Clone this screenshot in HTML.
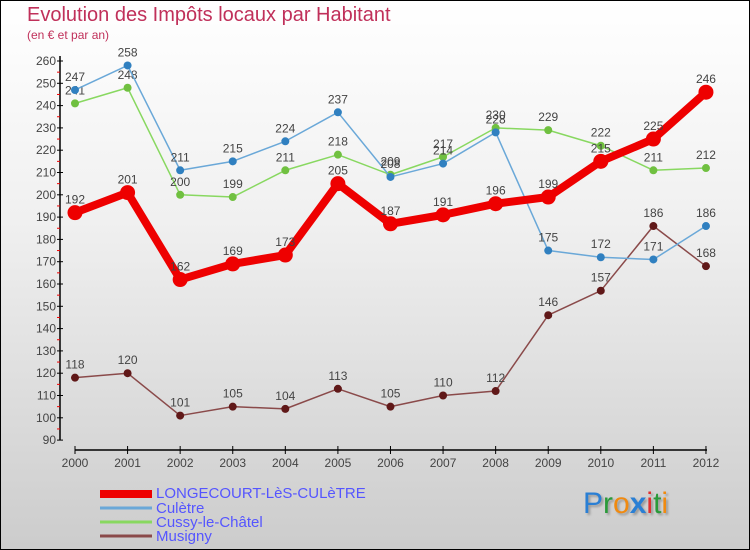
<!DOCTYPE html>
<html><head><meta charset="utf-8"><style>
body{margin:0;}
#wrap{position:relative;width:748px;height:548px;border:1px solid #000;background:linear-gradient(#ffffff,#f0f0f0 40%,#cccccc);overflow:hidden;font-family:"Liberation Sans",sans-serif;}
.t{position:absolute;white-space:nowrap;}
</style></head><body>
<div id="wrap">
<div class="t" style="left:26px;top:3px;font-size:20px;color:#c0305a;">Evolution des Impôts locaux par Habitant</div>
<div class="t" style="left:26px;top:27px;font-size:12px;color:#c0305a;">(en € et par an)</div>
<svg id="chart" width="748" height="548" style="position:absolute;left:-1px;top:-1px"></svg>
<div class="t" style="left:155px;top:484px;font-size:15px;color:#5555ff;">LONGECOURT-LèS-CULèTRE</div>
<div class="t" style="left:155px;top:499px;font-size:15px;color:#5555ff;">Culètre</div>
<div class="t" style="left:155px;top:513px;font-size:15px;color:#5555ff;">Cussy-le-Châtel</div>
<div class="t" style="left:155px;top:527px;font-size:15px;color:#5555ff;">Musigny</div>
<div class="t" style="left:582px;top:486px;font-size:30px;text-shadow:2px 2px 2px #999;"><span style="color:#2a7fd4">P</span><span style="color:#2a9a3a">r</span><span style="color:#f08a10">o</span><span style="color:#2a7fd4;font-weight:bold">x</span><span style="color:#e03030">i</span><span style="color:#2a9a3a">t</span><span style="color:#f08a10">i</span></div>
</div>
<script>
const years=[2000,2001,2002,2003,2004,2005,2006,2007,2008,2009,2010,2011,2012];
const yTicks=[90,100,110,120,130,140,150,160,170,180,190,200,210,220,230,240,250,260];
const longecourt=[192,201,162,169,173,205,187,191,196,199,215,225,246];
const culetre=[247,258,211,215,224,237,208,214,228,175,172,171,186];
const cussy=[241,248,200,199,211,218,209,217,230,229,222,211,212];
const musigny=[118,120,101,105,104,113,105,110,112,146,157,186,168];
const svg=document.getElementById('chart');
const NS='http://www.w3.org/2000/svg';
const x=i=>75+i*52.58;
const y=v=>61+(260-v)*2.23;
function mk(tag,attrs){const e=document.createElementNS(NS,tag);for(const k in attrs)e.setAttribute(k,attrs[k]);svg.appendChild(e);return e;}
let e;
e=mk('line',{x1:60,y1:56,x2:60,y2:440,stroke:'#000','stroke-width':1.5});


e=mk('line',{x1:75,y1:450,x2:707,y2:450,stroke:'#000','stroke-width':1.5});


yTicks.forEach(v=>{
 e=mk('line',{x1:57,y1:y(v),x2:63,y2:y(v),stroke:'#000'});
 
 
 if(v<260){e=mk('line',{x1:57,y1:y(v+5),x2:60,y2:y(v+5),stroke:'#e00'});
 
 }
 e=mk('text',{x:56,y:y(v)+4,'text-anchor':'end','font-size':12,fill:'#444','font-family':'Liberation Sans'});
 e.textContent=v;
 
 
});
years.forEach((yr,i)=>{
 e=mk('line',{x1:x(i),y1:446,x2:x(i),y2:454,stroke:'#000'});
 
 
 e=mk('text',{x:x(i),y:467,'text-anchor':'middle','font-size':12,fill:'#444','font-family':'Liberation Sans'});
 e.textContent=yr;
 
 
});
function series(data,color,dot,w,r,name){
 e=mk('polyline',{points:data.map((v,i)=>x(i)+','+y(v)).join(' '),fill:'none',stroke:color,'stroke-width':w,'stroke-linejoin':'round'});
 
 
 data.forEach((v,i)=>{
  e=mk('circle',{cx:x(i),cy:y(v),r:r,fill:dot});
  
  
  e=mk('text',{x:x(i),y:y(v)-9,'text-anchor':'middle','font-size':12,fill:'#444','font-family':'Liberation Sans'});
  e.textContent=v;
  
  
 });
}
series(musigny,'#8a4a4a','#601818',1.5,4,'musigny');
series(cussy,'#88d860','#70c040',1.5,4,'cussy');
series(culetre,'#6aa8d8','#3080c0',1.5,4,'culetre');
series(longecourt,'#ee0000','#ee0000',8,7.5,'longecourt');
const leg=[['#ee0000',8,'longecourt'],['#6aa8d8',3,'culetre'],['#88d860',3,'cussy'],['#8a4a4a',3,'musigny']];
leg.forEach((l,i)=>{
 e=mk('line',{x1:100,x2:152,y1:494+i*14,y2:494+i*14,stroke:l[0],'stroke-width':l[1]});
 
 
});
</script>
</body></html>
